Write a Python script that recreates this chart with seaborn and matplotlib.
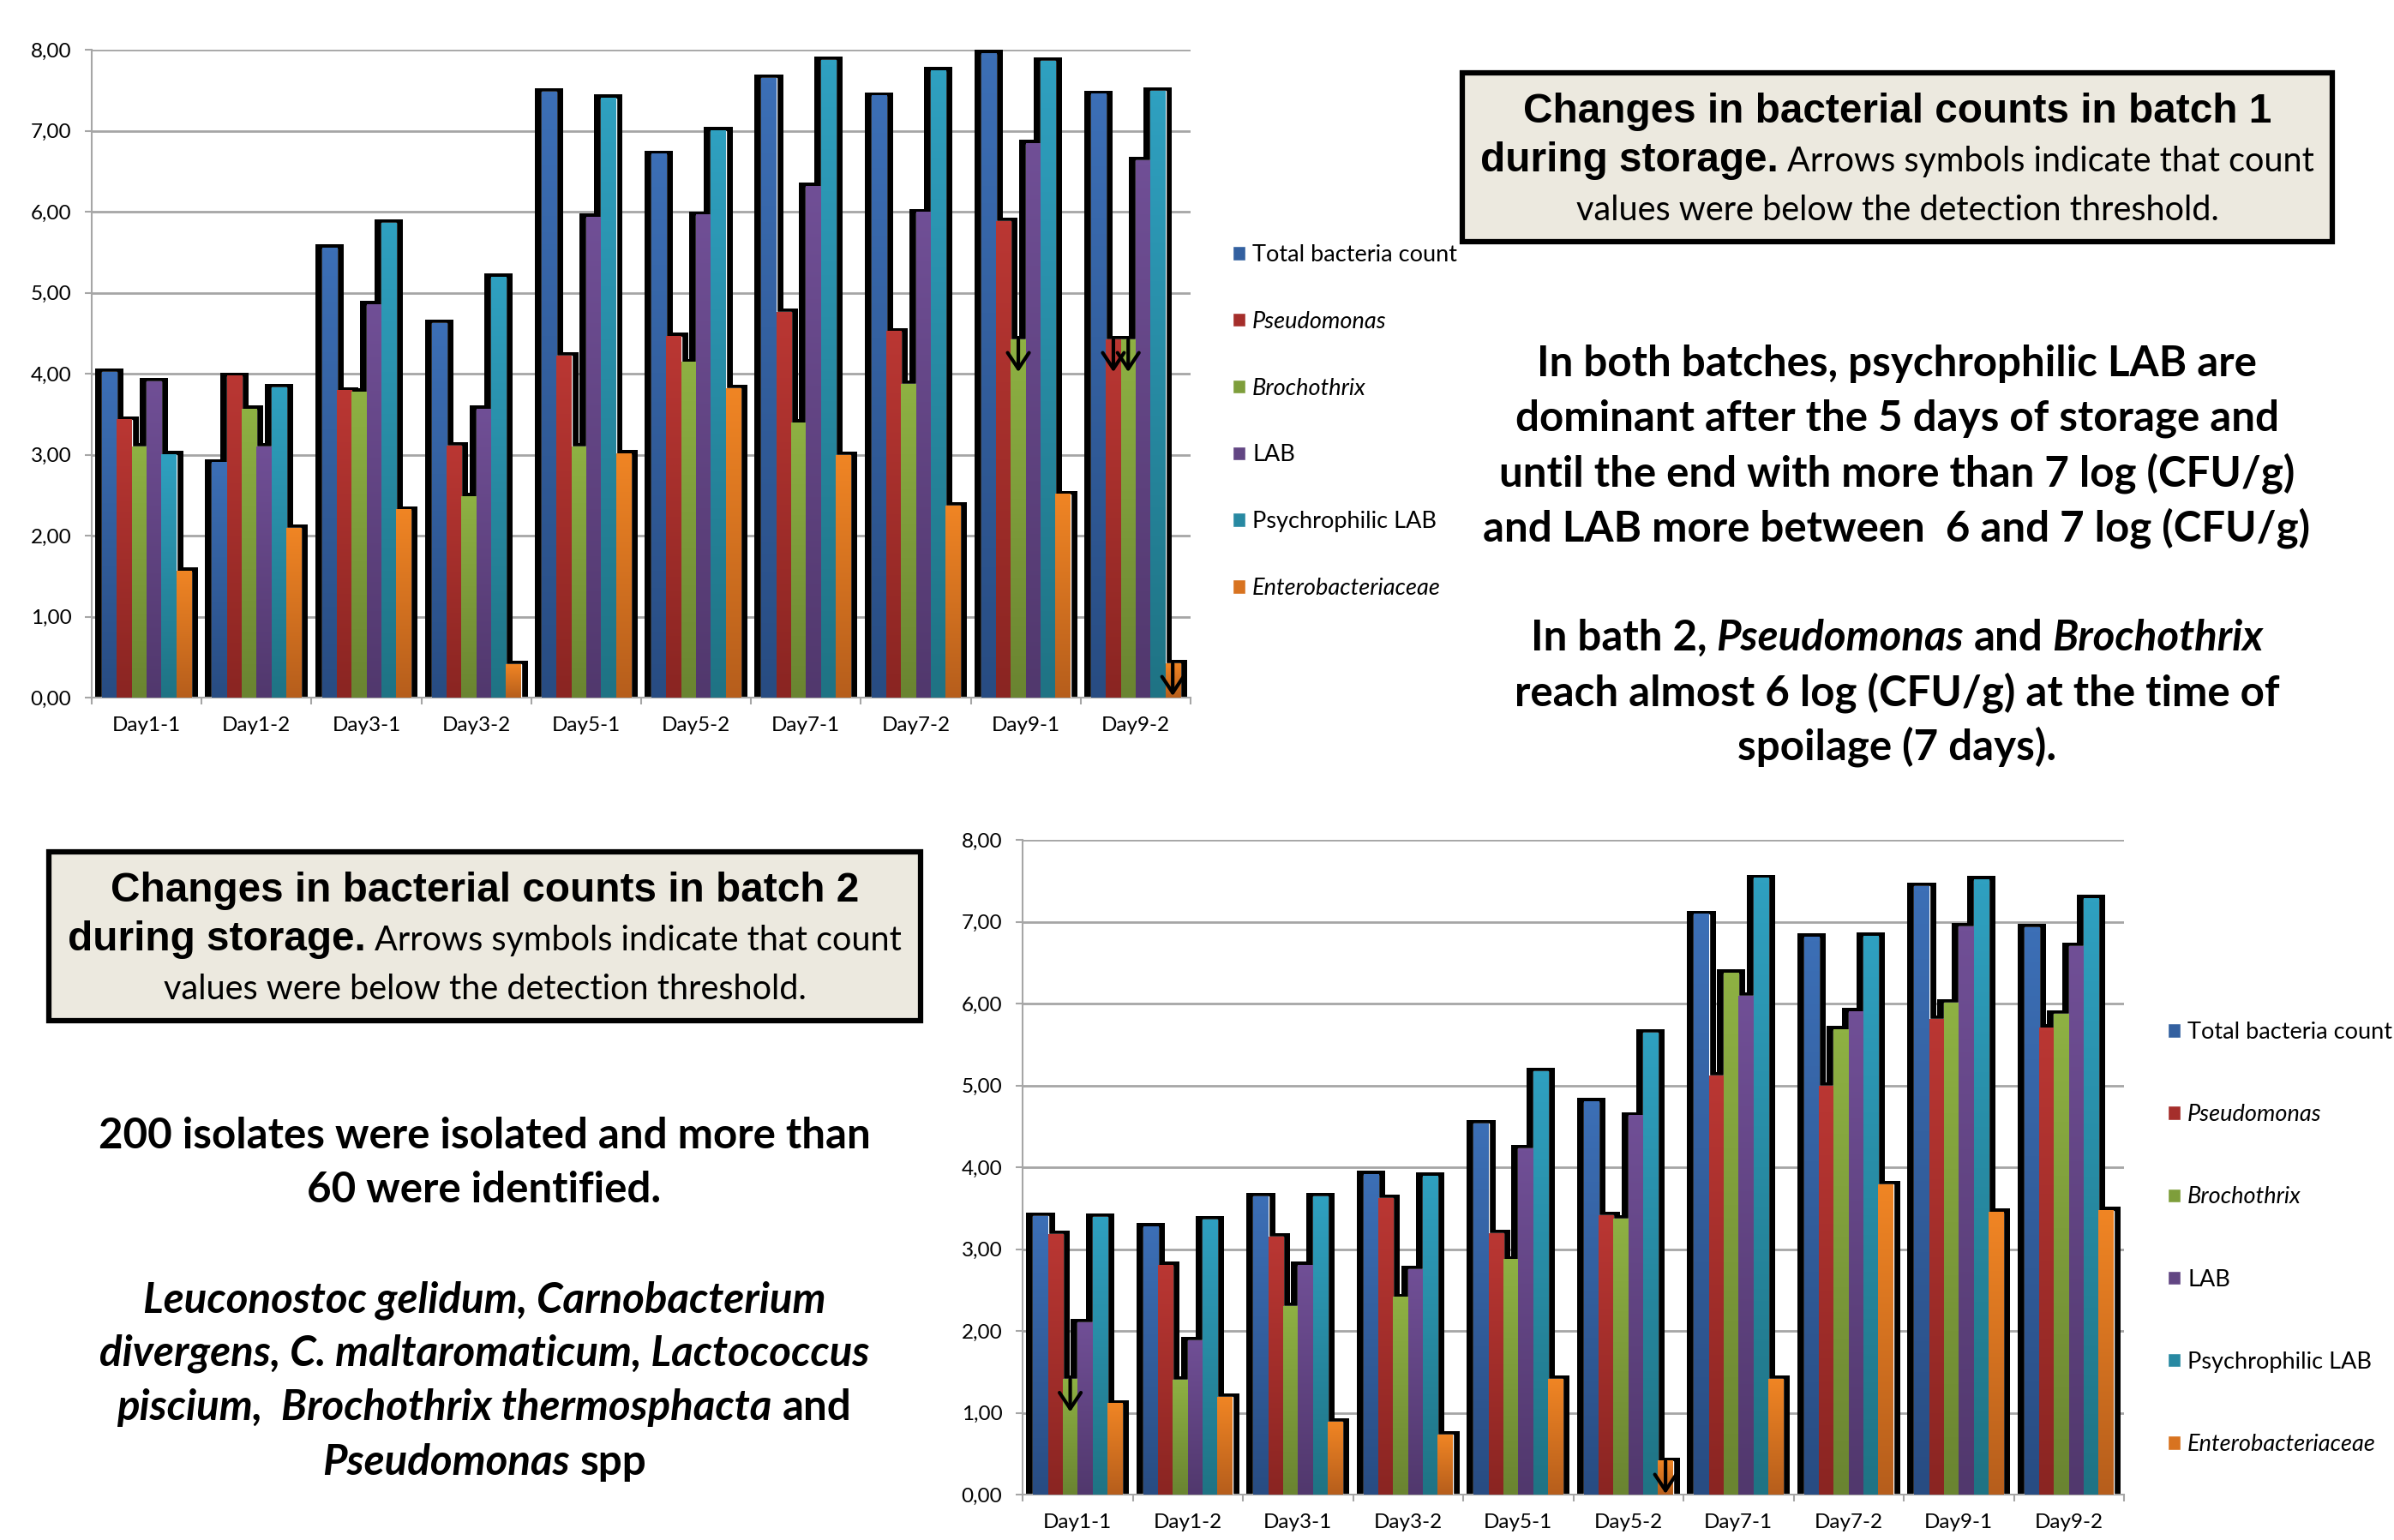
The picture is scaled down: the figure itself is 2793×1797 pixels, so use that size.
import numpy as np
import pandas as pd
import seaborn as sns
import matplotlib.pyplot as plt
from matplotlib.patches import Rectangle
from matplotlib.colors import LinearSegmentedColormap
from matplotlib.ticker import FuncFormatter

days = ['Day1-1', 'Day1-2', 'Day3-1', 'Day3-2', 'Day5-1', 'Day5-2', 'Day7-1', 'Day7-2', 'Day9-1', 'Day9-2']
series = ['Total bacteria count', 'Pseudomonas', 'Brochothrix', 'LAB', 'Psychrophilic LAB', 'Enterobacteriaceae']
italic_series = ['Pseudomonas', 'Brochothrix', 'Enterobacteriaceae']

# batch 1, log(CFU/g)
b1_total = [4.02, 2.90, 5.55, 4.62, 7.48, 6.71, 7.65, 7.43, 7.95, 7.45]
b1_pseudo = [3.43, 3.97, 3.79, 3.11, 4.22, 4.46, 4.76, 4.52, 5.88, 4.42]
b1_broch = [3.10, 3.56, 3.77, 2.48, 3.10, 4.14, 3.39, 3.87, 4.42, 4.42]
b1_lab = [3.90, 3.10, 4.85, 3.56, 5.93, 5.96, 6.31, 5.99, 6.84, 6.63]
b1_psychro = [3.00, 3.83, 5.86, 5.19, 7.40, 7.00, 7.87, 7.74, 7.86, 7.49]
b1_entero = [1.56, 2.09, 2.32, 0.41, 3.01, 3.82, 2.99, 2.37, 2.51, 0.42]
b1_below = [('Day9-1', 'Brochothrix'), ('Day9-2', 'Pseudomonas'),
            ('Day9-2', 'Brochothrix'), ('Day9-2', 'Enterobacteriaceae')]

# batch 2, log(CFU/g)
b2_total = [3.40, 3.27, 3.64, 3.91, 4.53, 4.80, 7.09, 6.81, 7.43, 6.93]
b2_pseudo = [3.18, 2.80, 3.15, 3.62, 3.19, 3.41, 5.12, 4.99, 5.81, 5.70]
b2_broch = [1.41, 1.40, 2.30, 2.41, 2.87, 3.37, 6.37, 5.68, 6.01, 5.87]
b2_lab = [2.10, 1.88, 2.80, 2.75, 4.23, 4.63, 6.09, 5.90, 6.94, 6.70]
b2_psychro = [3.39, 3.36, 3.64, 3.89, 5.17, 5.64, 7.53, 6.82, 7.51, 7.28]
b2_entero = [1.11, 1.19, 0.89, 0.73, 1.41, 0.41, 1.41, 3.79, 3.45, 3.47]
b2_below = [('Day1-1', 'Brochothrix'), ('Day5-2', 'Enterobacteriaceae')]

# gradient top / bottom colour of each series
grad_top = ['#3C6FB6', '#BA3733', '#8EB143', '#704F96', '#2FA0C0', '#F08524']
grad_bot = ['#284C82', '#8A2522', '#6A8431', '#51386D', '#1F7384', '#B65E1C']
legend_cols = ['#3360A0', '#A52E2B', '#7E9E3B', '#624683', '#2889A2', '#D87320']


def make_df(cols):
    rows = []
    for s, vals in zip(series, cols):
        for d, v in zip(days, vals):
            rows.append({'day': d, 'series': s, 'value': v})
    return pd.DataFrame(rows)


df1 = make_df([b1_total, b1_pseudo, b1_broch, b1_lab, b1_psychro, b1_entero])
df2 = make_df([b2_total, b2_pseudo, b2_broch, b2_lab, b2_psychro, b2_entero])

sns.set_style('white')
plt.rcParams['font.family'] = ['Lato', 'DejaVu Sans']
plt.rcParams['text.color'] = 'black'
plt.rcParams['xtick.color'] = 'black'
plt.rcParams['ytick.color'] = 'black'

W, H = 2793, 1797
fig = plt.figure(figsize=(W / 100, H / 100), dpi=100)
GRID = '#A6A6A6'


def draw_batch(ax, df, below, leg_x, leg_y, spacing):
    sns.barplot(data=df, x='day', y='value', hue='series', order=days, hue_order=series,
                palette=legend_cols, width=0.81, saturation=1, errorbar=None, ax=ax)
    dx, dy = 0.062, 0.045
    for i, cont in enumerate(ax.containers):
        cmap = LinearSegmentedColormap.from_list('g%d' % i, [grad_bot[i], grad_top[i]])
        for p in cont:
            x0, w, h = p.get_x(), p.get_width(), p.get_height()
            ax.add_patch(Rectangle((x0 - dx, 0), w + 2 * dx, h + dy, color='black', lw=0, zorder=2))
            ax.imshow(np.linspace(0, 1, 128).reshape(-1, 1), cmap=cmap, origin='lower', aspect='auto',
                      extent=(x0, x0 + w, 0, h), zorder=3, interpolation='bilinear')
            p.set_zorder(3)
    # arrows: count below the detection threshold
    for d, s in below:
        p = ax.containers[series.index(s)][days.index(d)]
        xc = p.get_x() + p.get_width() / 2
        top = p.get_height()
        ax.annotate('', xy=(xc, top - 0.4), xytext=(xc, top), zorder=6, annotation_clip=False,
                    arrowprops=dict(arrowstyle='->,head_length=0.45,head_width=0.3', color='black',
                                    lw=3, shrinkA=0, shrinkB=0, mutation_scale=30))
    ax.set_xlim(-0.5, 9.5)
    ax.set_ylim(0, 8)
    ax.set_yticks(np.arange(0, 9))
    ax.yaxis.set_major_formatter(FuncFormatter(lambda v, pos: f'{v:.2f}'.replace('.', ',')))
    ax.set_xticks(np.arange(-0.5, 10, 1), minor=True)
    ax.yaxis.grid(True, color=GRID, lw=2)
    ax.set_axisbelow(True)
    ax.tick_params(axis='y', which='major', length=6, width=1.5, color=GRID, left=True,
                   labelsize=17.5, pad=11)
    ax.tick_params(axis='x', which='major', length=0, labelsize=17.5, pad=16)
    ax.tick_params(axis='x', which='minor', length=6, width=1.5, color=GRID, bottom=True)
    for sp in ['top', 'right']:
        ax.spines[sp].set_visible(False)
    for sp in ['left', 'bottom']:
        ax.spines[sp].set_color(GRID)
        ax.spines[sp].set_linewidth(1.5)
    ax.set_xlabel('')
    ax.set_ylabel('')
    sns.move_legend(ax, 'center left', bbox_to_anchor=(leg_x / W, 1 - leg_y / H),
                    bbox_transform=fig.transFigure, frameon=False, title=None, fontsize=19.5,
                    labelspacing=spacing, handlelength=0.55, handleheight=0.55,
                    handletextpad=0.3, borderpad=0, borderaxespad=0)
    for t in ax.get_legend().get_texts():
        if t.get_text() in italic_series:
            t.set_style('italic')


ax1 = fig.add_axes([107 / W, 1 - 814 / H, (1389 - 107) / W, (814 - 58) / H])
draw_batch(ax1, df1, b1_below, 1438, 492, 1.95)

ax2 = fig.add_axes([1193 / W, 1 - 1744 / H, (2478 - 1193) / W, (1744 - 980) / H])
draw_batch(ax2, df2, b2_below, 2529, 1445, 2.63)

renderer = fig.canvas.get_renderer()


def width_of(s, kw):
    t = fig.text(0, 0, s, **kw)
    w = t.get_window_extent(renderer).width
    t.remove()
    return w


def text_line(xc, y_base, parts):
    # parts: list of (text, font kwargs), written one after the other, centred on xc
    widths = [width_of(s, kw) for s, kw in parts]
    gaps = [width_of('x x', kw) - width_of('xx', kw) for s, kw in parts]
    total = sum(widths) + sum(gaps[1:])
    x = xc - total / 2
    for i, ((s, kw), w) in enumerate(zip(parts, widths)):
        if i > 0:
            x += gaps[i]
        fig.text(x / W, 1 - y_base / H, s, ha='left', va='baseline', **kw)
        x += w


head = dict(family=['Liberation Sans', 'DejaVu Sans'], weight='bold', fontsize=34.4)
small = dict(family=['Lato', 'DejaVu Sans'], fontsize=28.5)
big = dict(family=['Lato', 'DejaVu Sans'], weight='bold', fontsize=35.5)
big_it = dict(family=['Lato', 'DejaVu Sans'], weight='bold', style='italic', fontsize=35.5)


def caption_box(x0, y0, x1, y1, batch):
    fig.add_artist(Rectangle((x0 / W, 1 - y1 / H), (x1 - x0) / W, (y1 - y0) / H,
                             transform=fig.transFigure, facecolor='#ECE9DF',
                             edgecolor='black', lw=4.5))
    xc = (x0 + x1) / 2
    text_line(xc, y0 + 58, [('Changes in bacterial counts in batch %d' % batch, head)])
    text_line(xc, y0 + 115, [('during storage.', head), ('Arrows symbols indicate that count', small)])
    text_line(xc, y0 + 172, [('values were below the detection threshold.', small)])


caption_box(1706, 85, 2721, 282, 1)
caption_box(57, 994, 1074, 1191, 2)

# right-hand notes
text_line(2213, 439, [('In both batches, psychrophilic LAB are', big)])
text_line(2213, 503, [('dominant after the 5 days of storage and', big)])
text_line(2213, 567, [('until the end with more than 7 log (CFU/g)', big)])
text_line(2213, 631, [('and LAB more between  6 and 7 log (CFU/g)', big)])
text_line(2213, 759, [('In bath 2,', big), ('Pseudomonas', big_it), ('and', big), ('Brochothrix', big_it)])
text_line(2213, 823, [('reach almost 6 log (CFU/g) at the time of', big)])
text_line(2213, 887, [('spoilage (7 days).', big)])

# bottom-left notes
text_line(565, 1340, [('200 isolates were isolated and more than', big)])
text_line(565, 1403, [('60 were identified.', big)])
text_line(565, 1531, [('Leuconostoc gelidum, Carnobacterium', big_it)])
text_line(565, 1594, [('divergens, C. maltaromaticum, Lactococcus', big_it)])
text_line(565, 1657, [('piscium,  Brochothrix thermosphacta', big_it), ('and', big)])
text_line(565, 1721, [('Pseudomonas', big_it), ('spp', big)])

fig.savefig('out.png', dpi=100, facecolor='white')
